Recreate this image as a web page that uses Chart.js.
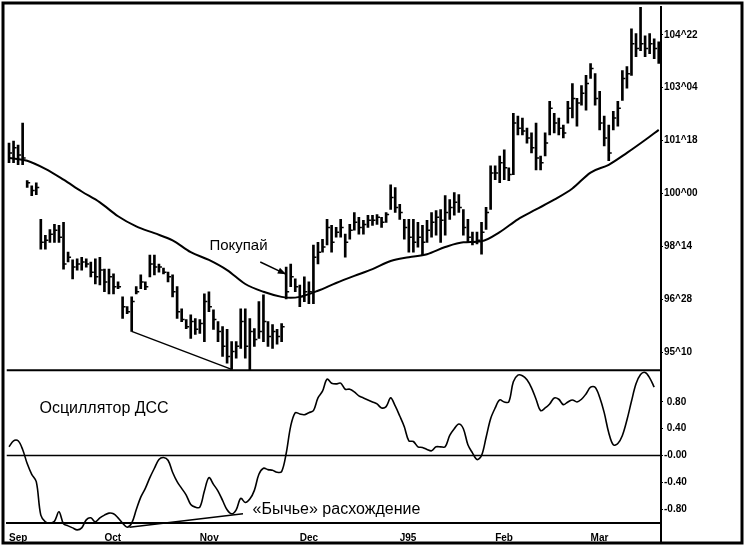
<!DOCTYPE html>
<html>
<head>
<meta charset="utf-8">
<script src="https://cdn.jsdelivr.net/npm/chart.js@4.4.1/dist/chart.umd.min.js"></script>
<style>
  html, body { margin: 0; padding: 0; background: #fff; }
</style>
</head>
<body>
<canvas id="chart" width="747" height="546"></canvas>
<script>
// Daily bars, Sep 1994 - mid Mar 1995 (index = trading day)
const highs = [
  101.49,101.55,101.43,102.08,100.38,100.23,100.32,99.24,98.77,98.94,
  99.09,99.06,99.15,98.27,98.04,98.07,98.12,98.07,97.98,98.07,
  98.12,97.77,97.77,97.63,97.39,96.95,96.66,96.95,97.25,97.60,
  97.39,98.18,98.18,97.92,97.80,97.68,97.60,97.25,96.60,96.28,
  96.42,96.31,96.28,97.04,97.10,96.57,96.22,96.07,95.99,95.63,
  95.63,96.60,96.60,96.31,96.01,96.81,97.01,96.22,96.13,95.99,
  96.16,97.83,97.92,97.48,97.30,97.54,97.39,98.48,98.56,98.65,
  99.24,99.06,99.00,99.24,98.80,99.09,99.44,99.30,99.21,99.36,
  99.36,99.38,99.30,99.44,100.26,100.18,99.68,99.24,99.24,99.24,
  99.15,99.06,99.21,99.44,99.50,99.53,99.94,99.82,100.03,99.97,
  99.53,99.24,98.86,98.86,99.15,99.59,100.82,100.82,101.11,101.29,
  100.76,102.37,102.29,102.23,101.93,101.79,102.08,101.11,101.79,102.72,
  102.37,102.23,102.02,102.72,103.25,102.81,103.19,103.49,103.84,103.54,
  103.02,102.29,102.02,102.43,102.72,103.63,103.75,104.86,104.72,105.60,
  104.66,104.72,104.57,104.48
];
const lows = [
  100.91,100.91,100.85,100.85,100.18,99.94,99.97,98.36,98.36,98.56,
  98.56,98.56,97.77,97.98,97.48,97.74,97.74,97.83,97.54,97.33,
  97.30,97.10,97.04,97.04,97.19,96.31,96.45,95.93,97.04,97.19,
  97.16,97.54,97.60,97.68,97.63,97.39,96.95,96.31,96.22,96.01,
  95.72,95.84,95.87,95.63,96.51,95.99,95.63,95.19,94.99,94.81,
  95.14,95.43,95.14,94.75,95.49,95.72,95.63,95.49,95.43,95.55,
  95.63,96.89,97.25,97.10,96.66,96.81,96.75,96.75,97.92,98.27,
  98.48,98.27,98.71,98.71,98.12,98.65,98.92,98.80,98.80,99.00,
  99.06,99.09,99.00,99.15,99.53,99.44,99.24,98.65,98.27,98.27,
  98.42,98.18,98.56,98.71,98.77,98.56,98.77,99.24,99.36,99.44,
  98.77,98.56,98.48,98.51,98.21,98.94,99.53,100.41,100.32,100.41,
  100.38,100.56,101.73,101.73,101.49,101.20,100.70,100.70,101.11,101.73,
  101.79,101.73,101.64,102.08,102.23,101.99,102.61,102.46,103.40,102.61,
  101.88,101.41,100.97,101.88,101.99,102.75,103.11,103.49,104.04,104.22,
  104.04,104.13,103.98,103.84
];
const closes = [
  101.20,101.35,101.14,101.05,100.32,100.09,100.18,98.56,98.62,98.80,
  98.92,98.71,97.92,98.12,97.83,97.92,97.98,97.92,97.68,97.54,
  97.74,97.39,97.54,97.25,97.25,96.66,96.51,96.81,97.10,97.39,
  97.25,97.92,97.83,97.83,97.68,97.54,97.10,96.51,96.28,96.07,
  96.22,95.99,96.16,96.81,96.66,96.28,95.93,95.49,95.19,95.34,
  95.49,96.22,95.49,95.93,95.69,95.93,96.22,95.78,95.93,95.78,
  96.07,97.10,97.54,97.25,96.95,97.10,97.10,98.12,98.27,98.42,
  99.00,98.56,98.86,99.00,98.56,98.92,99.15,99.00,99.09,99.21,
  99.21,99.30,99.15,99.38,99.88,99.59,99.44,99.00,98.71,98.56,
  98.71,98.56,98.92,99.15,99.30,99.21,99.44,99.59,99.74,99.59,
  99.00,98.71,98.56,98.62,98.86,99.44,100.61,100.61,100.91,100.76,
  100.56,102.08,101.93,101.85,101.64,101.35,101.05,100.91,101.49,102.52,
  102.08,101.93,101.79,102.52,102.81,102.67,102.96,103.25,103.69,102.81,
  102.08,101.64,101.20,102.23,102.52,103.40,103.54,104.42,104.28,104.42,
  104.28,104.42,104.28,104.13
];

// moving average, read at every 4th bar
const maIdx = [0,4,8,12,16,20,24,28,32,36,40,44,48,52,56,60,62,64,68,72,76,80,84,88,92,96,100,104,108,112,116,120,124,128,132,136,140,143];
const maVals = [101.05,100.97,100.73,100.41,100.06,99.74,99.33,99.03,98.83,98.62,98.27,98.04,97.74,97.33,97.10,96.95,96.92,96.95,97.13,97.36,97.57,97.77,98.01,98.12,98.21,98.42,98.56,98.59,98.86,99.24,99.53,99.82,100.15,100.62,100.85,101.20,101.58,101.88];

// DCC oscillator, one value per bar
const osc = [
  0.13,0.22,0.22,0.09,-0.12,-0.28,-0.39,-0.89,-0.99,-1.01,
  -0.98,-0.84,-1.02,-1.05,-1.08,-1.11,-1.08,-0.96,-0.93,-0.99,
  -0.93,-0.89,-0.86,-0.87,-0.93,-1.01,-1.07,-1.01,-0.81,-0.62,
  -0.49,-0.33,-0.19,-0.06,-0.03,-0.07,-0.25,-0.39,-0.49,-0.59,
  -0.73,-0.77,-0.77,-0.53,-0.33,-0.43,-0.53,-0.67,-0.81,-0.87,
  -0.81,-0.64,-0.70,-0.65,-0.52,-0.28,-0.19,-0.21,-0.22,-0.25,
  -0.24,0.03,0.44,0.64,0.62,0.61,0.64,0.67,0.86,0.96,
  1.14,1.08,1.07,1.08,0.99,0.99,0.95,0.89,0.86,0.83,
  0.80,0.77,0.71,0.73,0.86,0.74,0.59,0.43,0.22,0.21,
  0.13,0.12,0.09,0.07,0.13,0.13,0.13,0.30,0.40,0.47,
  0.40,0.16,0.04,-0.06,0.00,0.27,0.55,0.71,0.83,0.80,
  0.80,1.10,1.20,1.19,1.13,1.01,0.84,0.67,0.71,0.77,
  0.86,0.84,0.76,0.80,0.83,0.80,0.84,0.92,1.02,1.02,
  0.87,0.64,0.34,0.16,0.18,0.30,0.53,0.81,1.07,1.21,
  1.24,1.16,1.02
];

// bullish divergence lines
const priceDivIdx = [27, 49];
const oscDivIdx = [26.5, 51.5];
const oscDivVals = [-1.07, -0.87];

// axis ticks
const monthIdx = [0, 21, 42, 64, 86, 107, 128];
const monthLabels = ['Sep', 'Oct', 'Nov', 'Dec', 'J95', 'Feb', 'Mar'];
const priceTicks = [95.3125, 96.875, 98.4375, 100, 101.5625, 103.125, 104.6875];
const oscTicks = [-0.8, -0.4, 0, 0.4, 0.8];
const oscTickLabels = ['-0.80', '-0.40', '-0.00', ' 0.40', ' 0.80'];

// text notes (data coordinates)
const notes = [
  { text: 'Покупай', axis: 'yP', x: 44.1, y: 98.45, size: 15 },
  { text: 'Осциллятор ДСС', axis: 'yO', x: 6.7, y: 0.70, size: 16 },
  { text: '«Бычье» расхождение', axis: 'yO', x: 53.6, y: -0.80, size: 16 }
];
const buyArrow = { from: [55.3, 97.98], to: [60.8, 97.63] };

// price in 32nds, e.g. 104^22
function fmt32(v) {
  const whole = Math.floor(v + 1e-9);
  const n = Math.round((v - whole) * 32);
  return whole + '^' + (n < 10 ? '0' + n : n);
}

const extras = {
  id: 'extras',
  afterDatasetsDraw(chart) {
    const ctx = chart.ctx;
    const x = chart.scales.x, yP = chart.scales.yP, yO = chart.scales.yO;
    const area = chart.chartArea;
    ctx.save();
    ctx.strokeStyle = '#000';
    ctx.fillStyle = '#000';

    // close ticks on the right side of each bar
    ctx.save();
    ctx.beginPath();
    ctx.rect(area.left, yP.top, area.right - area.left, yP.bottom - yP.top);
    ctx.clip();
    ctx.lineWidth = 1.5;
    ctx.beginPath();
    closes.forEach((c, i) => {
      const px = x.getPixelForValue(i);
      const py = yP.getPixelForValue(c);
      ctx.moveTo(px, py);
      ctx.lineTo(px + 3, py);
    });
    ctx.stroke();
    ctx.restore();

    // panel separator and zero line
    ctx.lineWidth = 2;
    ctx.beginPath();
    ctx.moveTo(area.left, yP.bottom);
    ctx.lineTo(area.right, yP.bottom);
    ctx.stroke();
    ctx.lineWidth = 1.5;
    const z = yO.getPixelForValue(0);
    ctx.beginPath();
    ctx.moveTo(area.left, z);
    ctx.lineTo(area.right, z);
    ctx.stroke();

    // arrow to the buy bar
    const ax0 = x.getPixelForValue(buyArrow.from[0]), ay0 = yP.getPixelForValue(buyArrow.from[1]);
    const ax1 = x.getPixelForValue(buyArrow.to[0]), ay1 = yP.getPixelForValue(buyArrow.to[1]);
    const ang = Math.atan2(ay1 - ay0, ax1 - ax0);
    ctx.lineWidth = 1.5;
    ctx.beginPath();
    ctx.moveTo(ax0, ay0);
    ctx.lineTo(ax1, ay1);
    ctx.stroke();
    ctx.beginPath();
    ctx.moveTo(ax1 + 1, ay1 + 0.5);
    ctx.lineTo(ax1 - 8 * Math.cos(ang - 0.4), ay1 - 8 * Math.sin(ang - 0.4));
    ctx.lineTo(ax1 - 8 * Math.cos(ang + 0.4), ay1 - 8 * Math.sin(ang + 0.4));
    ctx.closePath();
    ctx.fill();

    // notes
    ctx.textBaseline = 'middle';
    ctx.textAlign = 'left';
    notes.forEach(n => {
      const sc = chart.scales[n.axis];
      ctx.font = n.size + 'px "Liberation Sans", Arial, sans-serif';
      ctx.fillText(n.text, x.getPixelForValue(n.x), sc.getPixelForValue(n.y));
    });

    // axis line through the date strip, and outer frame
    ctx.lineWidth = 2;
    ctx.beginPath();
    ctx.moveTo(area.right, area.bottom);
    ctx.lineTo(area.right, chart.height - 3);
    ctx.stroke();
    ctx.lineWidth = 3;
    ctx.strokeRect(3, 3, chart.width - 8, chart.height - 6);
    ctx.restore();
  }
};

const tickFont = { family: '"Liberation Sans", Arial, sans-serif', size: 10, weight: 'bold' };

new Chart(document.getElementById('chart'), {
  type: 'bar',
  data: {
    datasets: [
      {
        type: 'bar',
        data: highs.map((h, i) => ({ x: i, y: [lows[i], h] })),
        backgroundColor: '#000',
        barThickness: 2,
        xAxisID: 'x',
        yAxisID: 'yP'
      },
      {
        type: 'line',
        data: maIdx.map((v, k) => ({ x: v, y: maVals[k] })),
        borderColor: '#000',
        borderWidth: 2,
        pointRadius: 0,
        cubicInterpolationMode: 'monotone',
        xAxisID: 'x',
        yAxisID: 'yP'
      },
      {
        type: 'line',
        data: priceDivIdx.map(i => ({ x: i, y: lows[i] })),
        borderColor: '#000',
        borderWidth: 1.5,
        pointRadius: 0,
        xAxisID: 'x',
        yAxisID: 'yP'
      },
      {
        type: 'line',
        data: osc.map((v, i) => ({ x: i, y: v })),
        borderColor: '#000',
        borderWidth: 1.6,
        pointRadius: 0,
        tension: 0.35,
        clip: false,
        xAxisID: 'x',
        yAxisID: 'yO'
      },
      {
        type: 'line',
        data: oscDivIdx.map((v, k) => ({ x: v, y: oscDivVals[k] })),
        borderColor: '#000',
        borderWidth: 1.5,
        pointRadius: 0,
        clip: false,
        xAxisID: 'x',
        yAxisID: 'yO'
      }
    ]
  },
  options: {
    responsive: false,
    animation: false,
    devicePixelRatio: 1,
    layout: { padding: { left: 3, top: 3, right: 0, bottom: 0 } },
    plugins: {
      legend: { display: false },
      tooltip: { enabled: false }
    },
    scales: {
      x: {
        type: 'linear',
        position: 'bottom',
        min: -0.5,
        max: 143.5,
        offset: false,
        grid: { display: false, drawTicks: false },
        border: { display: true, color: '#000', width: 2 },
        afterBuildTicks: axis => { axis.ticks = monthIdx.map(v => ({ value: v })); },
        afterFit: axis => { axis.height = 23; },
        ticks: {
          color: '#000',
          font: tickFont,
          align: 'start',
          padding: 9,
          maxRotation: 0,
          autoSkip: false,
          callback: (v, i) => monthLabels[i]
        }
      },
      yP: {
        type: 'linear',
        position: 'right',
        stack: 'panels',
        stackWeight: 366,
        min: 94.785,
        max: 105.508,
        grid: { drawOnChartArea: false, drawTicks: true, tickLength: 2, color: '#000' },
        border: { display: true, color: '#000', width: 2 },
        afterBuildTicks: axis => { axis.ticks = priceTicks.map(v => ({ value: v })); },
        afterFit: axis => { axis.width = 86; },
        ticks: {
          color: '#000',
          font: tickFont,
          padding: 1,
          autoSkip: false,
          callback: v => fmt32(v)
        }
      },
      yO: {
        type: 'linear',
        position: 'right',
        stack: 'panels',
        stackWeight: 154,
        min: -1.007,
        max: 1.274,
        grid: { drawOnChartArea: false, drawTicks: true, tickLength: 2, color: '#000' },
        border: { display: true, color: '#000', width: 2 },
        afterBuildTicks: axis => { axis.ticks = oscTicks.map(v => ({ value: v })); },
        afterFit: axis => { axis.width = 86; },
        ticks: {
          color: '#000',
          font: tickFont,
          padding: 1,
          autoSkip: false,
          callback: (v, i) => oscTickLabels[i]
        }
      }
    }
  },
  plugins: [extras]
});
</script>
</body>
</html>
